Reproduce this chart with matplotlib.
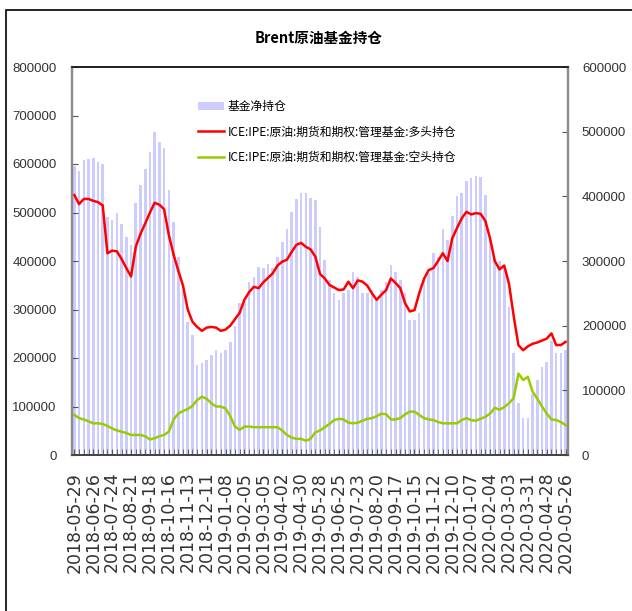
import numpy as np
import pandas as pd
import matplotlib.pyplot as plt

plt.rcParams['font.family'] = ['Noto Sans CJK SC', 'DejaVu Sans']

weeks = pd.date_range('2018-05-29', periods=105, freq='7D')

# 基金净持仓 (left axis)
net_position = [
    595000, 586000, 608000, 610000, 612000, 605000, 600000, 491000, 485000, 498000,
    476000, 450000, 433000, 520000, 557000, 589000, 625000, 665000, 646000, 634000,
    546000, 481000, 409000, 340000, 275000, 247000, 186000, 189000, 196000, 206000,
    216000, 210000, 216000, 234000, 265000, 313000, 316000, 357000, 368000, 388000,
    385000, 394000, 385000, 409000, 440000, 465000, 502000, 527000, 541000, 540000,
    529000, 526000, 471000, 402000, 361000, 333000, 320000, 333000, 340000, 378000,
    368000, 333000, 333000, 340000, 320000, 340000, 357000, 392000, 378000, 361000,
    333000, 278000, 278000, 292000, 368000, 375000, 416000, 409000, 467000, 443000,
    492000, 533000, 540000, 565000, 572000, 575000, 574000, 536000, 450000, 405000,
    400000, 385000, 305000, 210000, 107000, 76000, 76000, 125000, 155000, 182000,
    192000, 235000, 210000, 211000, 216000,
]

# 多头持仓 (right axis)
long_position = [
    402000, 388000, 396000, 396000, 393000, 391000, 386000, 312000, 316000, 315000,
    303000, 289000, 276000, 322000, 342000, 358000, 375000, 390000, 387000, 380000,
    340000, 310000, 285000, 262000, 225000, 206000, 198000, 192000, 197000, 198000,
    197000, 192000, 194000, 200000, 210000, 220000, 240000, 252000, 260000, 258000,
    267000, 274000, 281000, 293000, 299000, 302000, 314000, 325000, 328000, 322000,
    318000, 307000, 280000, 273000, 263000, 259000, 255000, 256000, 268000, 258000,
    270000, 268000, 262000, 250000, 240000, 248000, 255000, 273000, 266000, 258000,
    235000, 222000, 224000, 250000, 272000, 286000, 289000, 300000, 312000, 300000,
    335000, 351000, 366000, 376000, 372000, 374000, 373000, 362000, 335000, 300000,
    287000, 293000, 265000, 215000, 170000, 162000, 168000, 172000, 174000, 177000,
    180000, 188000, 170000, 170000, 175000,
]

# 空头持仓 (right axis)
short_position = [
    62000, 57000, 55000, 52000, 49000, 49000, 48000, 45000, 41000, 38000,
    36000, 34000, 31000, 31000, 31000, 29000, 24000, 26000, 29000, 31000,
    36000, 55000, 64000, 68000, 71000, 76000, 85000, 90000, 87000, 80000,
    75000, 75000, 72000, 60000, 44000, 39000, 44000, 44000, 43000, 43000,
    43000, 43000, 43000, 43000, 38000, 31000, 27000, 25000, 25000, 22000,
    25000, 35000, 38000, 43000, 48000, 54000, 56000, 55000, 50000, 49000,
    50000, 53000, 56000, 57000, 60000, 64000, 63000, 55000, 55000, 57000,
    63000, 67000, 67000, 62000, 57000, 55000, 54000, 51000, 49000, 49000,
    49000, 49000, 54000, 57000, 54000, 53000, 56000, 59000, 64000, 73000,
    70000, 74000, 80000, 88000, 126000, 116000, 121000, 98000, 87000, 75000,
    64000, 55000, 54000, 51000, 46000,
]

left_ticks = [0, 100000, 200000, 300000, 400000, 500000, 600000, 700000, 800000]
right_ticks = [0, 100000, 200000, 300000, 400000, 500000, 600000]

num_font = ['Liberation Sans', 'DejaVu Sans']
text_color = '#333333'

fig = plt.figure(figsize=(6.32, 6.11), dpi=100)
ax = fig.add_axes([72 / 632, 1 - 455 / 611, 496 / 632, 388 / 611])
ax2 = ax.twinx()

x = np.arange(len(weeks))
bars = ax.bar(x, net_position, width=0.55, color='#CCCCFF', label='基金净持仓')
line_long, = ax2.plot(x, long_position, color='#FF0000', lw=1.8,
                      label='ICE:IPE:原油:期货和期权:管理基金:多头持仓')
line_short, = ax2.plot(x, short_position, color='#99CC00', lw=1.8,
                       label='ICE:IPE:原油:期货和期权:管理基金:空头持仓')

ax.set_xlim(-0.5, len(weeks) - 0.5)
ax.set_ylim(0, 800000)
ax2.set_ylim(0, 600000)

ax.set_yticks(left_ticks, [str(v) for v in left_ticks],
              fontfamily=num_font, fontsize=9.5, color=text_color)
ax2.set_yticks(right_ticks, [str(v) for v in right_ticks],
               fontfamily=num_font, fontsize=9.5, color=text_color)
ax.set_xticks(x[::4], [d.strftime('%Y-%m-%d') for d in weeks[::4]],
              rotation=90, fontfamily='DejaVu Sans', fontsize=12.5, color=text_color)
ax.set_xticks(x, minor=True)

ax.tick_params(axis='y', direction='in', length=4, pad=11, color='#555555')
ax2.tick_params(axis='y', direction='in', length=4, pad=10, color='#555555')
ax.tick_params(axis='x', which='both', direction='in', length=4, pad=12, color='#555555')

for a in (ax, ax2):
    a.spines['top'].set_color('#222222')
    a.spines['top'].set_linewidth(1.3)
    a.spines['bottom'].set_color('#444444')
    a.spines['bottom'].set_linewidth(1.3)
    a.spines['left'].set_color('#8c8c8c')
    a.spines['left'].set_linewidth(1.6)
    a.spines['right'].set_color('#8c8c8c')
    a.spines['right'].set_linewidth(1.6)

ax2.legend([bars, line_long, line_short],
           [bars.get_label(), line_long.get_label(), line_short.get_label()],
           loc='upper left', bbox_to_anchor=(198 / 632, 1 - 100 / 611),
           bbox_transform=fig.transFigure, frameon=False, fontsize=8.5,
           handlelength=2.2, handletextpad=0.3, labelspacing=1.05,
           borderpad=0, borderaxespad=0)

fig.text(319 / 632, 1 - 38 / 611, 'Brent原油基金持仓', ha='center', va='center',
         fontsize=10.5, fontweight='bold')

fig.add_artist(plt.Rectangle((6 / 632, -0.05), 1.0, 1.05 - 10 / 611, fill=False,
                             ec='black', lw=1.2, transform=fig.transFigure))

fig.savefig('out.png', dpi=100)
